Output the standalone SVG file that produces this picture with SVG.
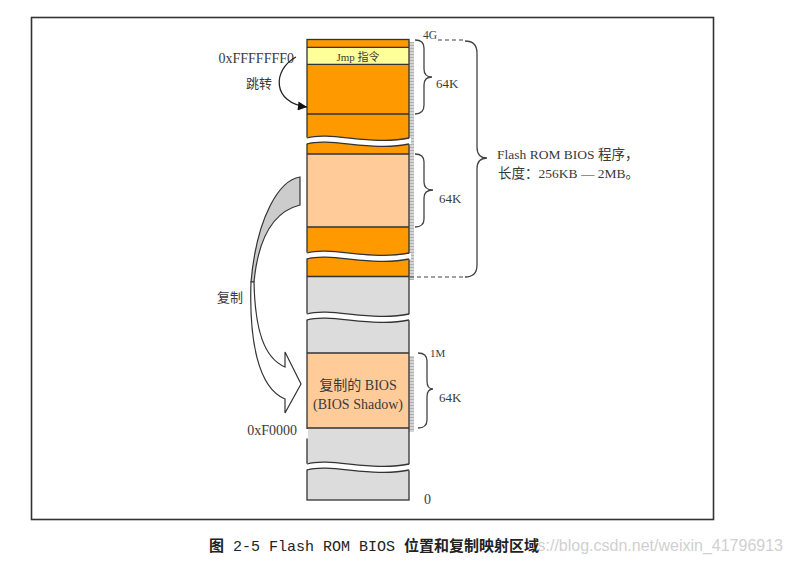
<svg xmlns="http://www.w3.org/2000/svg" xmlns:xlink="http://www.w3.org/1999/xlink" width="792" height="563" viewBox="0 0 792 563">
<style>
.t{font-family:"Liberation Serif","Noto Sans CJK SC",serif;fill:#3a3a3a;font-size:14px}
.cjk{font-family:"Noto Sans CJK SC","Liberation Sans",sans-serif;fill:#3a3a3a;font-size:13px}
.ln{stroke:#333;stroke-width:1.3;fill:none}
.br{stroke:#444;stroke-width:1.3;fill:none}
.dash{stroke:#444;stroke-width:1.2;stroke-dasharray:4 3;fill:none}
</style>
<defs>
<pattern id="tick" width="5" height="3" patternUnits="userSpaceOnUse">
<rect width="5" height="3" fill="#d4d4d4"/>
<line x1="0" y1="0.5" x2="5" y2="0.5" stroke="#a8a8a8" stroke-width="0.8"/>
</pattern>
<g id="wave">
<path d="M305,0 C330,-7 372,8 411,0 L411,6 C372,14 330,-1 305,6 Z" fill="#fff"/>
<path d="M307,0 C330,-7 372,8 409,0" class="ln"/>
<path d="M307,6 C330,-1 372,14 409,6" class="ln"/>
</g>
<marker id="ah" viewBox="0 0 10 10" refX="10" refY="5" markerWidth="10" markerHeight="9" markerUnits="userSpaceOnUse" orient="auto">
<path d="M0,0 L10,5 L0,10 Z" fill="#111"/>
</marker>
</defs>
<rect width="792" height="563" fill="#fff"/>
<rect id="frame" x="31.5" y="17.5" width="682" height="502" fill="none" stroke="#333" stroke-width="1.6"/>

<g id="shadow-strip">
<rect x="409" y="42" width="5" height="238" fill="url(#tick)"/>
<rect x="409" y="356" width="5" height="76" fill="url(#tick)"/>
</g>

<g id="memory">
<g id="flash-top">
<rect x="307" y="39.5" width="102" height="114.5" fill="#ff9900"/>
</g>
<g id="jmp">
<rect x="307" y="47.3" width="102" height="17" fill="#ffff99"/>
<text class="t" x="358" y="61" text-anchor="middle" style="font-size:11px">Jmp 指令</text>
</g>
<g id="flash-mid"><rect x="307" y="154" width="102" height="73" fill="#ffcc99"/></g>
<g id="flash-bottom"><rect x="307" y="227" width="102" height="49.5" fill="#ff9900"/></g>
<g id="gap-upper"><rect x="307" y="276.5" width="102" height="76.5" fill="#dcdcdc"/></g>
<g id="bios-shadow">
<rect x="307" y="353" width="102" height="75" fill="#ffcc99"/>
<text class="t" x="358" y="390" text-anchor="middle">复制的 BIOS</text>
<text class="t" x="358" y="409" text-anchor="middle">(BIOS Shadow)</text>
</g>
<g id="gap-lower"><rect x="307" y="428" width="102" height="72" fill="#dcdcdc"/></g>
<g id="dividers">
<path class="ln" d="M307,47.3H409M307,64.3H409M307,114H409M307,154H409M307,227H409M307,276.5H409M307,353H409M307,428H409"/>
<rect class="ln" x="307" y="39.5" width="102" height="460.5"/>
<line x1="307" y1="429" x2="307" y2="438.5" stroke="#fff" stroke-width="2"/>
</g>
<use xlink:href="#wave" href="#wave" y="138"/>
<use xlink:href="#wave" href="#wave" y="253"/>
<use xlink:href="#wave" href="#wave" y="314"/>
<use xlink:href="#wave" href="#wave" y="464"/>
</g>

<g id="labels">
<text class="t" x="294" y="63" text-anchor="end">0xFFFFFFF0</text>
<text class="cjk" x="246" y="88">跳转</text>
<text class="cjk" x="217" y="302">复制</text>
<text class="t" x="297" y="435" text-anchor="end">0xF0000</text>
<text class="t" x="423" y="39" style="font-size:11.5px">4G</text>
<text class="t" x="436" y="88" style="font-size:13px">64K</text>
<text class="t" x="439" y="203" style="font-size:13px">64K</text>
<text class="t" x="430" y="357" style="font-size:11px">1M</text>
<text class="t" x="439" y="402" style="font-size:13px">64K</text>
<text class="t" x="424" y="504">0</text>
<text class="t" x="497" y="159" style="font-size:13.5px">Flash ROM BIOS 程序，</text>
<text class="t" x="498" y="178" style="font-size:13.5px">长度：256KB — 2MB。</text>
</g>

<g id="braces">
<path class="br" d="M415,40 Q424,40 424,48 L424,69 Q424,77 432,77 Q424,77 424,85 L424,105 Q424,114 415,114"/>
<path class="br" d="M415,154 Q424,154 424,162 L424,182 Q424,190 433,190 Q424,190 424,198 L424,219 Q424,227 415,227"/>
<path class="br" d="M465,41 Q477,41 477,53 L477,147 Q477,158 487,158 Q477,158 477,169 L477,265 Q477,277 465,277"/>
<path class="br" d="M418,353 Q427,353 427,361 L427,381 Q427,389 433,389 Q427,389 427,397 L427,420 Q427,428 418,428"/>
<path class="dash" d="M438,40 H465"/>
<path class="dash" d="M410,277 H465"/>
</g>

<g id="connectors">
<path d="M296,57 C272,70 272,103 307,107" fill="none" stroke="#222" stroke-width="1.3" marker-end="url(#ah)"/>
<path d="M300,177 C280,180 257,215 251,282 L254,282 C258,240 272,212 300,205 Z" fill="#cccccc" stroke="#333" stroke-width="1.2"/>
<path d="M254,282 C255,330 264,358 285,367 L285,352 L301,384 L285,413 L285,399 C258,388 249,340 251,282 Z" fill="#fff" stroke="#333" stroke-width="1.2"/>
</g>

<g id="caption">
<text x="783" y="551" text-anchor="end" style="font-family:'Liberation Sans',Arial,sans-serif;font-size:16px;fill:#d0d0d0">s://blog.csdn.net/weixin_41796913</text>
<text x="209" y="551" style="font-family:'Liberation Mono','Noto Sans CJK SC',monospace;font-size:15px;fill:#222"><tspan style="font-family:'Noto Sans CJK SC',sans-serif;font-weight:bold">图</tspan> 2-5 Flash ROM BIOS <tspan style="font-family:'Noto Sans CJK SC',sans-serif;font-weight:bold">位置和复制映射区域</tspan></text>
</g>
</svg>
